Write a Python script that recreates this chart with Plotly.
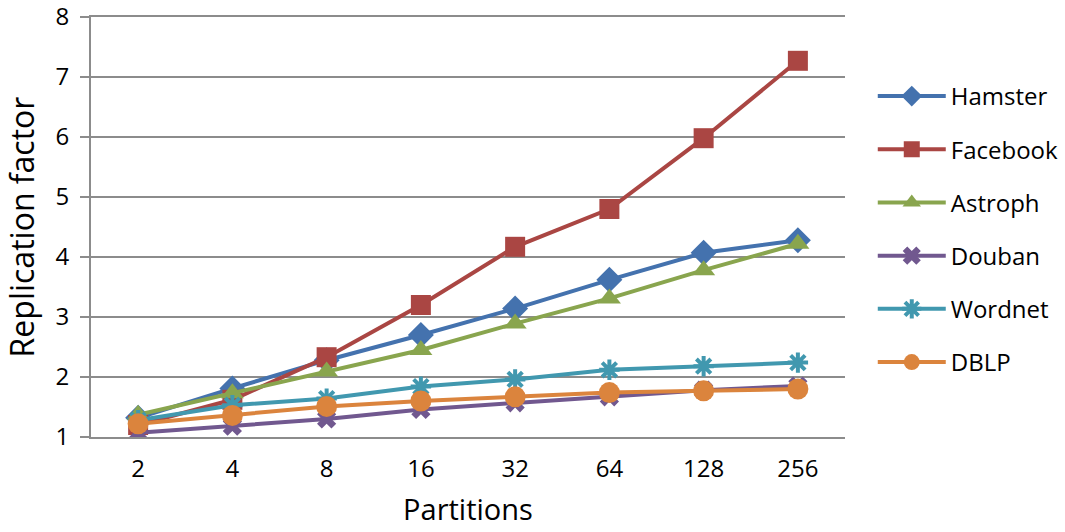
import plotly.graph_objects as go

partitions = ["2", "4", "8", "16", "32", "64", "128", "256"]
hamster  = [1.32, 1.81, 2.28, 2.70, 3.14, 3.62, 4.07, 4.28]
facebook = [1.20, 1.62, 2.33, 3.20, 4.17, 4.80, 5.98, 7.27]
astroph  = [1.37, 1.73, 2.09, 2.45, 2.89, 3.31, 3.78, 4.22]
douban   = [1.07, 1.18, 1.30, 1.46, 1.57, 1.67, 1.78, 1.85]
wordnet  = [1.28, 1.53, 1.64, 1.84, 1.96, 2.12, 2.18, 2.24]
dblp     = [1.22, 1.36, 1.51, 1.60, 1.67, 1.74, 1.77, 1.80]

series = [
    ("Hamster", hamster, "#4472AE", "diamond", 20),
    ("Facebook", facebook, "#AA4643", "square", 20),
    ("Astroph", astroph, "#89A54E", "triangle-up", 20),
    ("Douban", douban, "#71588F", "x", 17),
    ("Wordnet", wordnet, "#4198AF", "asterisk-open", 17),
    ("DBLP", dblp, "#DB843D", "circle", 21),
]

font_family = "'Open Sans', 'Noto Sans', sans-serif"

fig = go.Figure()
for i, (name, vals, color, sym, size) in enumerate(series):
    marker = dict(symbol=sym, size=size, color=color, line=dict(width=0, color=color))
    if sym == "asterisk-open":
        marker["line"] = dict(width=4, color=color)
    fig.add_trace(go.Scatter(
        x=partitions, y=vals, name=name, mode="lines+markers",
        line=dict(color=color, width=4), marker=marker,
        legendgroup=f"g{i}",
    ))

fig.update_layout(
    width=1065, height=532,
    margin=dict(l=91, r=220, t=17, b=95),
    paper_bgcolor="white", plot_bgcolor="white",
    font=dict(family=font_family, size=24, color="black"),
    showlegend=True,
    legend=dict(
        xref="container", yref="container",
        x=0.8195, y=0.861, xanchor="left", yanchor="top",
        font=dict(size=24, family=font_family),
        tracegroupgap=19, itemwidth=68, maxheight=700,
        bgcolor="rgba(0,0,0,0)",
    ),
    xaxis=dict(
        type="category", range=[-0.5, 7.5], automargin=False,
        showgrid=False, showline=True, mirror=True,
        linecolor="#8c8c8c", linewidth=2,
        ticks="", tickfont=dict(size=24),
        ticklabelstandoff=9,
        title=dict(text="Partitions", font=dict(size=29), standoff=17),
        zeroline=False,
    ),
    yaxis=dict(
        range=[1, 8], dtick=1, tick0=1, automargin=False,
        showgrid=True, gridcolor="#8c8c8c", gridwidth=2,
        showline=True, linecolor="#8c8c8c", linewidth=2,
        ticks="outside", ticklen=9, tickwidth=2, tickcolor="#8c8c8c",
        tickfont=dict(size=24), ticklabelstandoff=6,
        ticklabeloverflow="allow",
        title=dict(text="Replication factor", font=dict(size=32), standoff=15),
        zeroline=False,
    ),
)

fig.write_html(
    "out.html",
    config={"displayModeBar": False},
    post_script="document.body.style.margin='0';document.body.style.overflow='hidden';",
)
